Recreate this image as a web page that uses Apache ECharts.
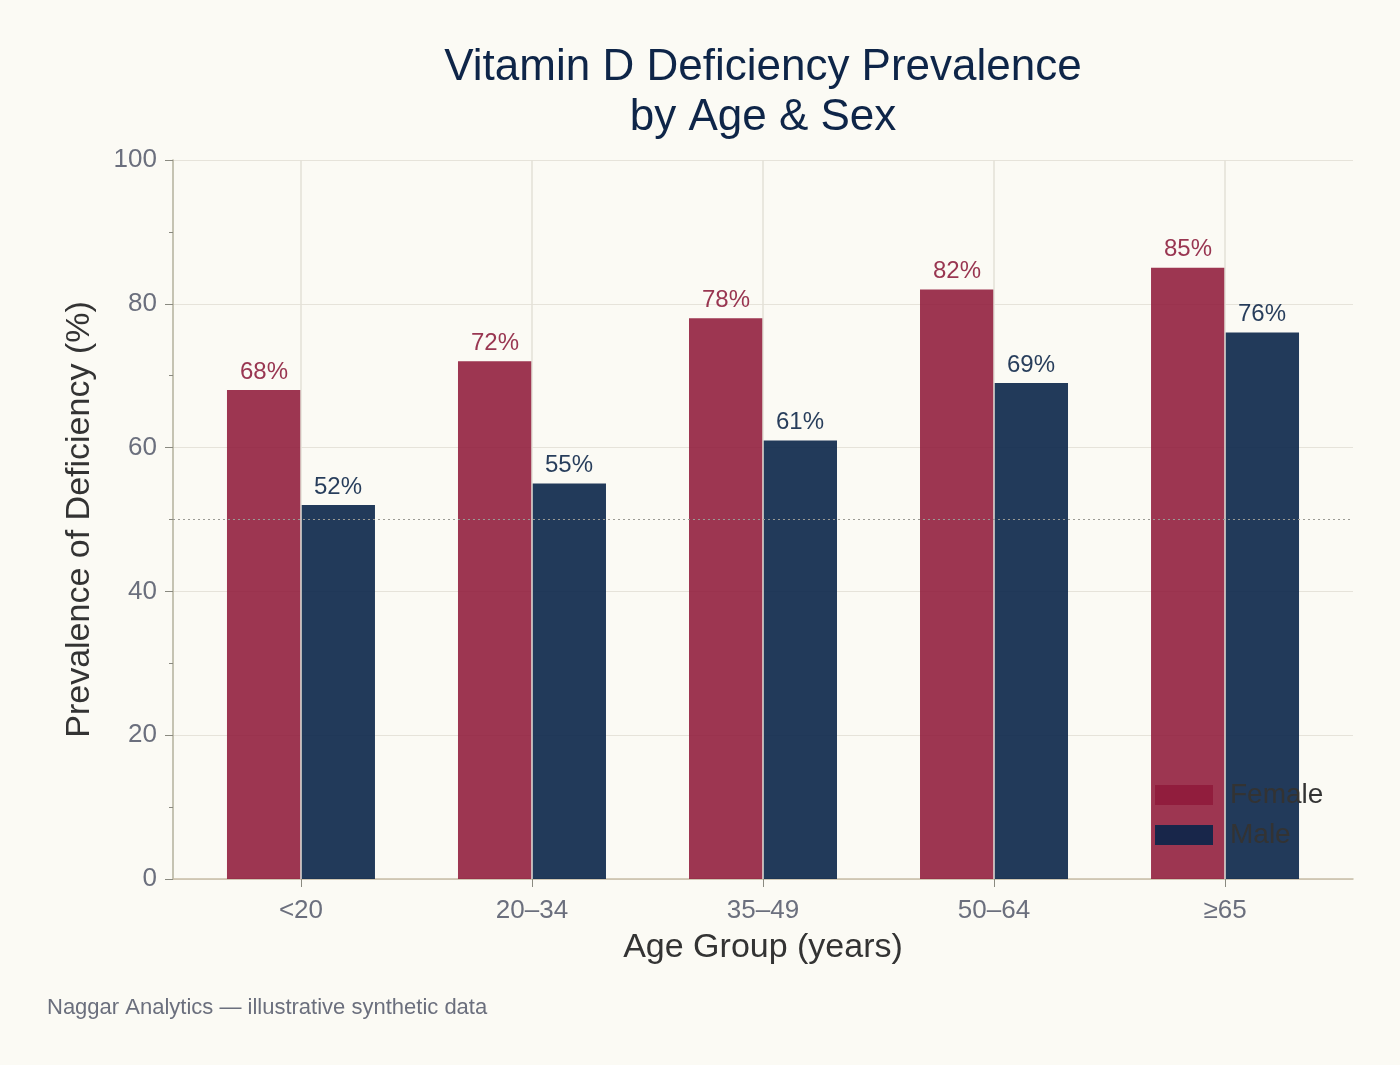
<!DOCTYPE html>
<html>
<head>
<meta charset="utf-8">
<script src="https://cdn.jsdelivr.net/npm/echarts@6/dist/echarts.min.js"></script>
<style>
  html, body { margin: 0; padding: 0; background: #fbfaf4; }
  #chart { width: 1400px; height: 1065px; }
</style>
</head>
<body>
<div id="chart"></div>
<script>
const ageGroups = ["<20", "20–34", "35–49", "50–64", "≥65"];
const female = [68, 72, 78, 82, 85];
const male = [52, 55, 61, 69, 76];
const threshold = 50;

const font = "'Liberation Sans', Arial, Helvetica, sans-serif";
const idx = ageGroups.map((g, i) => i);

let chart = echarts.init(document.getElementById("chart"));

let option = {
  backgroundColor: "#fbfaf4",
  textStyle: { fontFamily: font },
  animation: false,
  title: {
    text: "Vitamin D Deficiency Prevalence\nby Age & Sex",
    left: 758,
    top: 38,
    textAlign: "center",
    textStyle: {
      fontFamily: font,
      fontSize: 44,
      fontWeight: "normal",
      color: "#0e2548",
      lineHeight: 50
    }
  },
  legend: {
    data: ["Female", "Male"],
    orient: "vertical",
    left: 1150,
    top: 776,
    itemWidth: 58,
    itemHeight: 20,
    itemGap: 12,
    icon: "rect",
    textStyle: { fontFamily: font, fontSize: 28, color: "#333333", padding: [4, 0, 0, 12] }
  },
  grid: {
    left: 173,
    right: 47,
    top: 160,
    bottom: 186,
    containLabel: false
  },
  xAxis: {
    // categories placed at integer positions, with a little padding either side
    type: "value",
    min: -0.554,
    max: 4.554,
    name: "Age Group (years)",
    nameLocation: "middle",
    nameGap: 52,
    nameTextStyle: { fontFamily: font, fontSize: 34, color: "#333333" },
    axisLine: { show: true, onZero: false, lineStyle: { color: "#c7bda6", width: 1.5 } },
    axisTick: { show: true, customValues: idx, length: 8, lineStyle: { color: "#8a8a80" } },
    axisLabel: {
      customValues: idx,
      formatter: v => ageGroups[Math.round(v)],
      fontFamily: font, fontSize: 26, color: "#6b6f7d", margin: 19
    },
    splitLine: { show: false }
  },
  yAxis: {
    type: "value",
    min: 0,
    max: 100,
    interval: 20,
    name: "Prevalence of Deficiency (%)",
    nameLocation: "middle",
    nameGap: 76,
    nameTextStyle: { fontFamily: font, fontSize: 34, color: "#333333" },
    axisLine: { show: true, onZero: false, lineStyle: { color: "#b3b09c", width: 1.5 } },
    axisTick: { show: true, length: 8, lineStyle: { color: "#8a8a80" } },
    minorTick: { show: true, splitNumber: 2, length: 4, lineStyle: { color: "#8a8a80" } },
    axisLabel: { fontFamily: font, fontSize: 26, color: "#6b6f7d", margin: 16 },
    splitLine: { show: true, lineStyle: { color: "#e6e3da", width: 1 } }
  },
  series: [
    {
      // helper: vertical grid lines at category centres + 50% reference line
      name: "guides",
      type: "line",
      data: [],
      z: 1,
      silent: true,
      markLine: {
        silent: true,
        symbol: "none",
        label: { show: false },
        data: idx.map(i => ({ xAxis: i, lineStyle: { color: "#e3e0d7", width: 1.5, type: "solid" } }))
          .concat([{ yAxis: threshold, lineStyle: { color: "#9a9a94", width: 1, type: [2, 3] } }])
      }
    },
    {
      name: "Female",
      type: "bar",
      z: 3,
      barWidth: 74,
      barGap: "0%",
      data: female.map((v, i) => [i, v]),
      itemStyle: { color: "#901a3a", opacity: 0.88 },
      label: {
        show: true,
        position: "top",
        distance: 6,
        formatter: p => p.value[1] + "%",
        fontFamily: font,
        fontSize: 24,
        color: "#8b1a3a"
      }
    },
    {
      name: "Male",
      type: "bar",
      z: 3,
      barWidth: 74,
      barGap: "0%",
      data: male.map((v, i) => [i, v]),
      itemStyle: { color: "#0a2549", opacity: 0.9 },
      label: {
        show: true,
        position: "top",
        distance: 6,
        formatter: p => p.value[1] + "%",
        fontFamily: font,
        fontSize: 24,
        color: "#10284a"
      }
    }
  ],
  graphic: [
    {
      type: "text",
      left: 47,
      top: 997,
      style: {
        text: "Naggar Analytics — illustrative synthetic data",
        fontFamily: font,
        fontSize: 22,
        fill: "#6b6f7d"
      }
    }
  ]
};

chart.setOption(option);
</script>
</body>
</html>
